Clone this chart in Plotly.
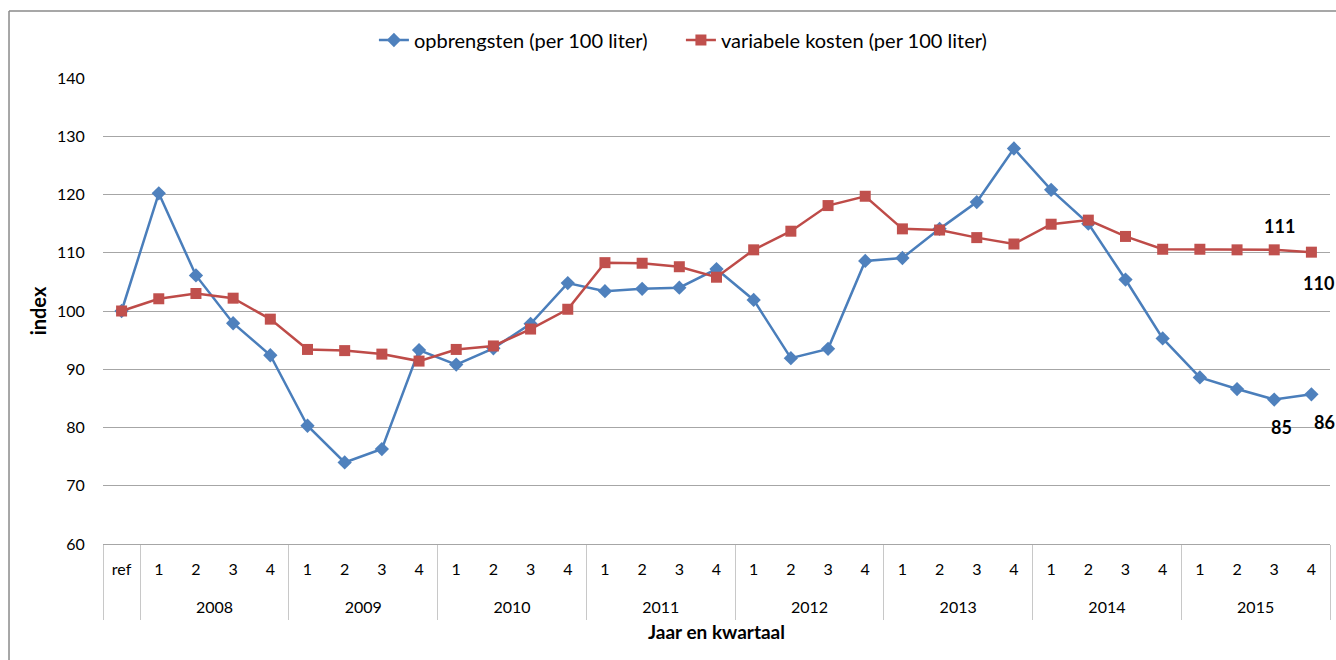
import plotly.graph_objects as go

years = [""] + ["2008"] * 4 + ["2009"] * 4 + ["2010"] * 4 + ["2011"] * 4 + ["2012"] * 4 + ["2013"] * 4 + ["2014"] * 4 + ["2015"] * 4
quarters = ["ref"] + ["1", "2", "3", "4"] * 8

opbrengsten = [100, 120.2, 106.1, 97.9, 92.4,
               80.3, 74.0, 76.3, 93.3,
               90.8, 93.6, 97.8, 104.8,
               103.4, 103.8, 104.0, 107.2,
               101.9, 91.9, 93.5, 108.6,
               109.1, 114.1, 118.7, 127.9,
               120.8, 115.0, 105.4, 95.3,
               88.6, 86.6, 84.8, 85.7]
variabele_kosten = [100, 102.1, 103.0, 102.2, 98.6,
                    93.4, 93.2, 92.6, 91.4,
                    93.4, 94.0, 96.9, 100.3,
                    108.3, 108.2, 107.6, 105.8,
                    110.5, 113.7, 118.1, 119.7,
                    114.1, 113.9, 112.6, 111.5,
                    114.9, 115.6, 112.8, 110.6,
                    110.6, 110.5, 110.5, 110.1]

name_opb = "opbrengsten (per 100 liter)"
name_var = "variabele kosten (per 100 liter)"
labels_var = ["111", "110"]
labels_opb = ["85", "86"]

blue_line = "#4A7EBB"
blue_mark = "#4F81BD"
red_line = "#BE4B48"
red_mark = "#C0504D"
font_family = "Lato, 'Open Sans', sans-serif"

n = len(quarters)
idx = list(range(n))

# group structure of the category axis (derived from the year list)
group_names, group_centers, boundaries = [], [], [-0.5]
start = 0
for i in range(1, n + 1):
    if i == n or years[i] != years[start]:
        group_names.append(years[start])
        group_centers.append((start + i - 1) / 2)
        boundaries.append(i - 0.5)
        start = i

fig = go.Figure()
fig.add_trace(go.Scatter(
    x=idx, y=opbrengsten, name=name_opb, mode="lines+markers",
    line=dict(color=blue_line, width=2.5),
    marker=dict(symbol="diamond", size=11, color=blue_mark, line=dict(width=0)),
))
fig.add_trace(go.Scatter(
    x=idx, y=variabele_kosten, name=name_var, mode="lines+markers",
    line=dict(color=red_line, width=2.5),
    marker=dict(symbol="square", size=11, color=red_mark, line=dict(width=0)),
))
# empty carrier traces so that the year-level axis and the divider axis are drawn
fig.add_trace(go.Scatter(x=group_centers, y=[None] * len(group_centers), xaxis="x2",
                         showlegend=False, hoverinfo="skip", mode="markers"))
fig.add_trace(go.Scatter(x=boundaries, y=[None] * len(boundaries), xaxis="x3",
                         showlegend=False, hoverinfo="skip", mode="markers"))

lab_font = dict(family=font_family, size=18, color="#000000")
fig.add_annotation(x=idx[-2], y=variabele_kosten[-2], text="<b>%s</b>" % labels_var[0],
                   showarrow=False, xref="x", yref="y", xshift=5, yshift=24, font=lab_font)
fig.add_annotation(x=idx[-1], y=variabele_kosten[-1], text="<b>%s</b>" % labels_var[1],
                   showarrow=False, xref="x", yref="y", xshift=-10, yshift=-31,
                   xanchor="left", font=lab_font)
fig.add_annotation(x=idx[-2], y=opbrengsten[-2], text="<b>%s</b>" % labels_opb[0],
                   showarrow=False, xref="x", yref="y", xshift=7, yshift=-27, font=lab_font)
fig.add_annotation(x=idx[-1], y=opbrengsten[-1], text="<b>%s</b>" % labels_opb[1],
                   showarrow=False, xref="x", yref="y", xshift=1, yshift=-28,
                   xanchor="left", font=lab_font)

# outer chart frame (top and left edges visible, rest cropped)
frame_col = "#8a8a8a"
fig.add_shape(type="line", xref="paper", yref="paper", x0=-0.0766, x1=1.02, y0=1.1438, y1=1.1438,
              line=dict(color=frame_col, width=1.5))
fig.add_shape(type="line", xref="paper", yref="paper", x0=-0.0766, x1=-0.0766, y0=1.1438, y1=-0.3,
              line=dict(color=frame_col, width=1.5))

xrange = [-0.5, n - 0.5]
axis_col = "#a6a6a6"
fig.update_layout(
    width=1336, height=660,
    margin=dict(l=103, r=6, t=78, b=116),
    paper_bgcolor="white", plot_bgcolor="white",
    font=dict(family=font_family, size=16, color="#000000"),
    showlegend=True,
    legend=dict(orientation="h", x=0.471, xanchor="center", y=1.0815, yanchor="middle",
                font=dict(size=20, family=font_family), itemwidth=30,
                entrywidth=262, entrywidthmode="pixels",
                bgcolor="rgba(0,0,0,0)"),
    xaxis=dict(
        range=xrange, showgrid=False, zeroline=False, showline=True, linecolor=axis_col, linewidth=1,
        tickmode="array", tickvals=idx, ticktext=quarters,
        ticks="outside", ticklen=11, tickcolor="rgba(0,0,0,0)",
        tickfont=dict(size=16, family=font_family), automargin=False,
    ),
    xaxis2=dict(
        overlaying="x", anchor="y", side="bottom", range=xrange,
        showgrid=False, zeroline=False, showline=False,
        tickmode="array", tickvals=group_centers, ticktext=group_names,
        ticks="outside", ticklen=49, tickcolor="rgba(0,0,0,0)",
        tickfont=dict(size=16, family=font_family), automargin=False,
        title=dict(text="<b>Jaar en kwartaal</b>", font=dict(size=19, family=font_family), standoff=10),
    ),
    xaxis3=dict(
        overlaying="x", anchor="y", side="bottom", range=xrange,
        showgrid=False, zeroline=False, showline=False,
        tickmode="array", tickvals=boundaries, showticklabels=False,
        ticks="outside", ticklen=75, tickcolor="#c8c8c8", tickwidth=1, automargin=False,
    ),
    yaxis=dict(
        range=[60, 140], dtick=10, showgrid=True, gridcolor=axis_col, gridwidth=1,
        zeroline=False, showline=False, ticks="outside", ticklen=14, tickcolor="rgba(0,0,0,0)",
        tickfont=dict(size=16, family=font_family),
        title=dict(text="<b>index</b>", font=dict(size=20, family=font_family), standoff=4),
    ),
)

fig.write_html("out.html", config={"displayModeBar": False},
               post_script="document.body.style.margin='0';")
